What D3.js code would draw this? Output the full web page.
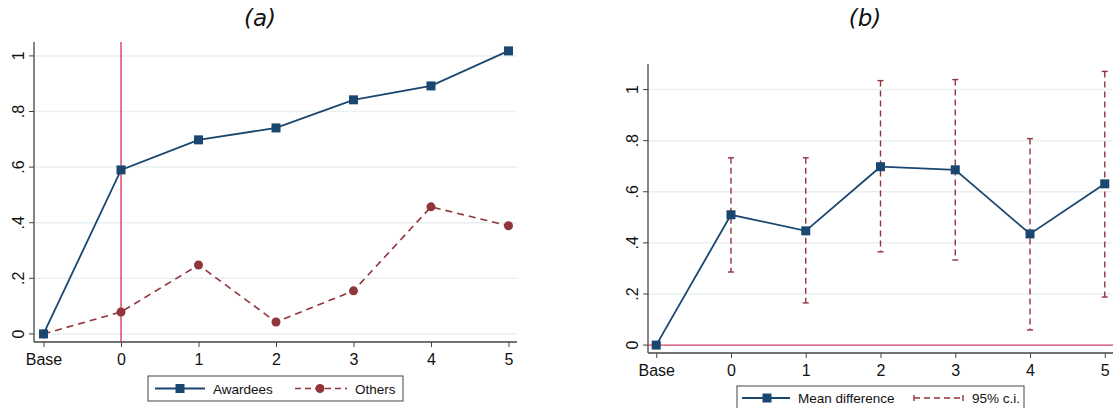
<!DOCTYPE html>
<html>
<head>
<meta charset="utf-8">
<script src="https://cdn.jsdelivr.net/npm/d3@7"></script>
<style>
  html, body { margin: 0; padding: 0; background: #fff; }
  svg { display: block; }
  text { font-family: "Liberation Sans", Arial, sans-serif; fill: #111; }
</style>
</head>
<body>
<svg id="chart" width="1115" height="408"></svg>
<script>
// Period labels: "Base" plus years 0..5 after the award
const periods = [-1, 0, 1, 2, 3, 4, 5];
const periodLabels = ["Base", "0", "1", "2", "3", "4", "5"];

// Panel (a): outcome by group
const awardees = [0, 0.59, 0.698, 0.741, 0.842, 0.892, 1.018];
const others   = [0, 0.079, 0.248, 0.043, 0.155, 0.457, 0.389];
const yTicksA = [0, 0.2, 0.4, 0.6, 0.8, 1];

// Panel (b): mean difference with 95% confidence interval
const meanDiff = [0, 0.51, 0.447, 0.698, 0.686, 0.435, 0.631];
const ciLow    = [null, 0.286, 0.165, 0.365, 0.333, 0.059, 0.188];
const ciHigh   = [null, 0.733, 0.733, 1.035, 1.039, 0.808, 1.071];
const yTicksB = [0, 0.2, 0.4, 0.6, 0.8, 1];

const navy = "#1a476f";
const maroon = "#90353b";
const gridCol = "#e8f0f1";

const svg = d3.select("#chart");
const fmt = v => v === 0 ? "0" : (v === 1 ? "1" : String(v).replace(/^0/, ""));

function panel(opt) {
  const g = svg.append("g");
  const x = d3.scaleLinear().domain(opt.xDomain).range([opt.left, opt.right]);
  const y = d3.scaleLinear().domain(opt.yDomain).range([opt.bottom, opt.top]);

  // horizontal grid
  g.append("g").selectAll("line").data(opt.yTicks).join("line")
    .attr("x1", opt.left).attr("x2", opt.right)
    .attr("y1", d => y(d)).attr("y2", d => y(d))
    .attr("stroke", gridCol).attr("stroke-width", 1.5);

  // y axis with labels rotated to read bottom-to-top
  const ya = g.append("g").attr("transform", `translate(${opt.left},0)`)
    .call(d3.axisLeft(y).tickValues(opt.yTicks).tickFormat(fmt).tickSize(5));
  ya.select(".domain").attr("stroke", "#444").attr("stroke-width", 1.3)
    .attr("d", `M0,${opt.top}V${opt.bottom}`);
  ya.selectAll(".tick").attr("transform", null);
  ya.selectAll(".tick line").attr("stroke", "#444")
    .attr("y1", d => y(d)).attr("y2", d => y(d)).attr("x2", -5);
  ya.selectAll(".tick text")
    .attr("font-size", 16).attr("fill", "#111")
    .attr("text-anchor", "middle")
    .attr("transform", "rotate(-90)")
    .attr("x", d => -y(d))
    .attr("y", -10)
    .attr("dy", 0);

  // x axis
  const xa = g.append("g").attr("transform", `translate(0,${opt.bottom})`)
    .call(d3.axisBottom(x).tickValues(periods).tickFormat((d, i) => periodLabels[i]).tickSize(5).tickPadding(7));
  xa.select(".domain").attr("stroke", "#444").attr("stroke-width", 1.3)
    .attr("d", `M${opt.left},0H${opt.right}`);
  xa.selectAll(".tick line").attr("stroke", "#444");
  xa.selectAll(".tick text").attr("font-size", 16).attr("fill", "#111");

  // title
  g.append("text").attr("x", opt.titleX).attr("y", 26)
    .attr("text-anchor", "middle").attr("font-size", 23).attr("font-style", "italic")
    .style("font-family", "'DejaVu Sans', sans-serif").style("font-weight", 300)
    .attr("fill", "#222").text(opt.title);

  return { g, x, y };
}

function squares(g, x, y, vals) {
  g.append("g").selectAll("rect").data(vals).join("rect")
    .attr("x", (d, i) => x(periods[i]) - 4.5).attr("y", d => y(d) - 4.5)
    .attr("width", 9).attr("height", 9).attr("fill", navy);
}

// ---------- Panel (a) ----------
{
  const p = panel({
    xDomain: [-1.123, 5.11], yDomain: [-0.029, 1.05],
    left: 34, right: 517, top: 42, bottom: 342,
    yTicks: yTicksA, title: "(a)", titleX: 260
  });
  const { g, x, y } = p;

  // reference line at period 0
  g.append("line").attr("x1", x(0)).attr("x2", x(0))
    .attr("y1", y(1.05)).attr("y2", y(-0.029))
    .attr("stroke", "#d41f48").attr("stroke-width", 1.2);

  const line = d3.line().x((d, i) => x(periods[i])).y(d => y(d));
  g.append("path").datum(others).attr("d", line).attr("fill", "none")
    .attr("stroke", maroon).attr("stroke-width", 1.6).attr("stroke-dasharray", "7,5");
  g.append("path").datum(awardees).attr("d", line).attr("fill", "none")
    .attr("stroke", navy).attr("stroke-width", 1.8);
  g.append("g").selectAll("circle").data(others).join("circle")
    .attr("cx", (d, i) => x(periods[i])).attr("cy", d => y(d)).attr("r", 4.5).attr("fill", maroon);
  squares(g, x, y, awardees);

  // legend
  const lg = svg.append("g").attr("transform", "translate(148,376)");
  lg.append("rect").attr("width", 255).attr("height", 25).attr("fill", "#fff")
    .attr("stroke", "#444").attr("stroke-width", 1);
  lg.append("line").attr("x1", 7).attr("x2", 57).attr("y1", 12.5).attr("y2", 12.5)
    .attr("stroke", navy).attr("stroke-width", 1.8);
  lg.append("rect").attr("x", 27.5).attr("y", 8).attr("width", 9).attr("height", 9).attr("fill", navy);
  lg.append("text").attr("x", 65).attr("y", 18).attr("font-size", 13.5).text("Awardees");
  lg.append("line").attr("x1", 147).attr("x2", 199).attr("y1", 12.5).attr("y2", 12.5)
    .attr("stroke", maroon).attr("stroke-width", 1.6).attr("stroke-dasharray", "6,4");
  lg.append("circle").attr("cx", 172).attr("cy", 12.5).attr("r", 4.5).attr("fill", maroon);
  lg.append("text").attr("x", 207).attr("y", 18).attr("font-size", 13.5).text("Others");
}

// ---------- Panel (b) ----------
{
  const p = panel({
    xDomain: [-1.11, 5.11], yDomain: [-0.031, 1.10],
    left: 648, right: 1113, top: 64, bottom: 353,
    yTicks: yTicksB, title: "(b)", titleX: 865
  });
  const { g, x, y } = p;

  // zero reference line
  g.append("line").attr("x1", 648).attr("x2", 1113)
    .attr("y1", y(0)).attr("y2", y(0))
    .attr("stroke", "#d8436b").attr("stroke-width", 1.4);

  // confidence intervals
  const ci = periods.map((p, i) => ({ p, lo: ciLow[i], hi: ciHigh[i] })).filter(d => d.lo !== null);
  const cg = g.append("g").attr("stroke", maroon).attr("stroke-width", 1.4);
  cg.selectAll("line.ci").data(ci).join("line").attr("class", "ci")
    .attr("x1", d => x(d.p)).attr("x2", d => x(d.p))
    .attr("y1", d => y(d.hi)).attr("y2", d => y(d.lo))
    .attr("stroke-dasharray", "6,4");
  cg.selectAll("line.capT").data(ci).join("line").attr("class", "capT")
    .attr("x1", d => x(d.p) - 3).attr("x2", d => x(d.p) + 3)
    .attr("y1", d => y(d.hi)).attr("y2", d => y(d.hi));
  cg.selectAll("line.capB").data(ci).join("line").attr("class", "capB")
    .attr("x1", d => x(d.p) - 3).attr("x2", d => x(d.p) + 3)
    .attr("y1", d => y(d.lo)).attr("y2", d => y(d.lo));

  const line = d3.line().x((d, i) => x(periods[i])).y(d => y(d));
  g.append("path").datum(meanDiff).attr("d", line).attr("fill", "none")
    .attr("stroke", navy).attr("stroke-width", 1.8);
  squares(g, x, y, meanDiff);

  // legend
  const lg = svg.append("g").attr("transform", "translate(737,386)");
  lg.append("rect").attr("width", 287).attr("height", 26).attr("fill", "#fff")
    .attr("stroke", "#444").attr("stroke-width", 1);
  lg.append("line").attr("x1", 5).attr("x2", 53).attr("y1", 12).attr("y2", 12)
    .attr("stroke", navy).attr("stroke-width", 1.8);
  lg.append("rect").attr("x", 25.5).attr("y", 7.5).attr("width", 9).attr("height", 9).attr("fill", navy);
  lg.append("text").attr("x", 61).attr("y", 17).attr("font-size", 13.5).text("Mean difference");
  const ls = lg.append("g").attr("stroke", maroon).attr("stroke-width", 1.4);
  ls.append("line").attr("x1", 177).attr("x2", 226).attr("y1", 12).attr("y2", 12).attr("stroke-dasharray", "6,4");
  ls.append("line").attr("x1", 177).attr("x2", 177).attr("y1", 9).attr("y2", 15);
  ls.append("line").attr("x1", 226).attr("x2", 226).attr("y1", 9).attr("y2", 15);
  lg.append("text").attr("x", 235).attr("y", 17).attr("font-size", 13.5).text("95% c.i.");
}
</script>
</body>
</html>
